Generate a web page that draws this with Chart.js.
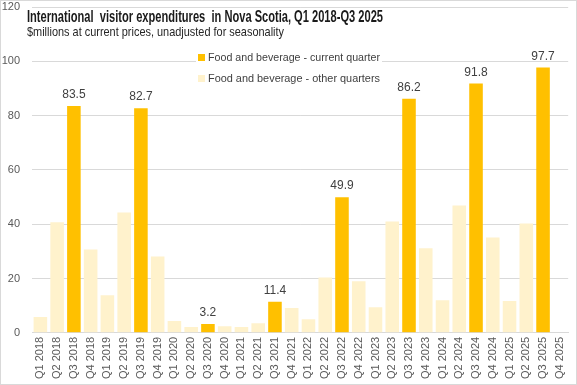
<!DOCTYPE html>
<html lang="en">
<head>
    <meta charset="UTF-8">
    <title>International visitor expenditures in Nova Scotia</title>
    <script src="https://cdn.jsdelivr.net/npm/chart.js"></script>
    <style>
        html, body { margin: 0; padding: 0; background: #fff; }
        canvas { display: block; }
    </style>
</head>
<body>
    <canvas id="fbChart" width="577" height="385"></canvas>

    <script>
        const quarters = [
            'Q1 2018', 'Q2 2018', 'Q3 2018', 'Q4 2018',
            'Q1 2019', 'Q2 2019', 'Q3 2019', 'Q4 2019',
            'Q1 2020', 'Q2 2020', 'Q3 2020', 'Q4 2020',
            'Q1 2021', 'Q2 2021', 'Q3 2021', 'Q4 2021',
            'Q1 2022', 'Q2 2022', 'Q3 2022', 'Q4 2022',
            'Q1 2023', 'Q2 2023', 'Q3 2023', 'Q4 2023',
            'Q1 2024', 'Q2 2024', 'Q3 2024', 'Q4 2024',
            'Q1 2025', 'Q2 2025', 'Q3 2025', 'Q4 2025'
        ];
        // Q3 each year = current quarter
        const currentQuarter = [
            null, null, 83.5, null,
            null, null, 82.7, null,
            null, null, 3.2, null,
            null, null, 11.4, null,
            null, null, 49.9, null,
            null, null, 86.2, null,
            null, null, 91.8, null,
            null, null, 97.7, null
        ];
        const otherQuarters = [
            5.8, 40.7, null, 30.7,
            13.8, 44.3, null, 28.1,
            4.3, 2.1, null, 2.4,
            2.1, 3.5, null, 9.1,
            5.0, 20.4, null, 19.0,
            9.4, 41.0, null, 31.1,
            12.0, 46.9, null, 35.1,
            11.7, 40.3, null, null
        ];
        const yTicks = [0, 20, 40, 60, 80, 100, 120];

        const titleText = 'International  visitor expenditures  in Nova Scotia, Q1 2018-Q3 2025';
        const subtitleText = '$millions at current prices, unadjusted for seasonality';

        const gold = '#FFC000';
        const cream = '#FFF2CC';
        const txt = '#595959';

        // title, subtitle, legend, value labels and frame drawn on top
        const overlay = {
            id: 'overlay',
            afterDatasetsDraw(chart) {
                const c = chart.ctx;
                c.save();
                // value labels on current quarter bars
                c.font = '12px "Liberation Sans", Arial, sans-serif';
                c.fillStyle = '#404040';
                c.textAlign = 'center';
                c.textBaseline = 'alphabetic';
                chart.getDatasetMeta(0).data.forEach((bar, i) => {
                    const v = currentQuarter[i];
                    if (v == null) return;
                    c.fillText(v.toFixed(1), bar.x, bar.y - 8);
                });
                c.restore();
            },
            afterDraw(chart) {
                const c = chart.ctx;
                c.save();
                c.textAlign = 'left';
                c.textBaseline = 'alphabetic';
                c.fillStyle = '#1a1a1a';
                c.font = 'bold 16px "Liberation Sans Narrow", "Liberation Sans", Arial, sans-serif';
                c.fillText(titleText, 27, 22, 356);
                c.fillStyle = '#262626';
                c.font = '13px "Liberation Sans Narrow", "Liberation Sans", Arial, sans-serif';
                c.fillText(subtitleText, 27, 36, 257);

                // legend, white box over the grid
                const lx = 196, ly = 48;
                c.fillStyle = '#fff';
                c.fillRect(lx, ly, 186, 36);
                c.font = '11.5px "Liberation Sans", Arial, sans-serif';
                chart.data.datasets.forEach((ds, i) => {
                    const y = ly + 9 + i * 21;
                    c.fillStyle = ds.backgroundColor;
                    c.fillRect(lx + 2, y - 3, 7, 7);
                    c.fillStyle = '#404040';
                    c.textBaseline = 'middle';
                    c.fillText(ds.label, lx + 12, y + 1, 172);
                });

                c.strokeStyle = '#d9d9d9';
                c.lineWidth = 1;
                c.strokeRect(0.5, 0.5, chart.width - 1, chart.height - 1);
                c.restore();
            }
        };

        const ctx = document.getElementById('fbChart').getContext('2d');
        const chart = new Chart(ctx, {
            type: 'bar',
            data: {
                labels: quarters,
                datasets: [{
                    label: 'Food and beverage - current quarter',
                    data: currentQuarter,
                    backgroundColor: gold,
                    barPercentage: 0.81,
                    categoryPercentage: 1
                }, {
                    label: 'Food and beverage - other quarters',
                    data: otherQuarters,
                    backgroundColor: cream,
                    barPercentage: 0.81,
                    categoryPercentage: 1
                }]
            },
            options: {
                responsive: false,
                animation: false,
                layout: { padding: { top: 7, right: 0, left: 0, bottom: 2 } },
                plugins: {
                    legend: { display: false },
                    tooltip: { enabled: false }
                },
                scales: {
                    x: {
                        stacked: true,
                        grid: { display: false, drawTicks: false },
                        border: { display: true, color: '#d9d9d9' },
                        ticks: {
                            color: txt,
                            font: { family: '"Liberation Sans", Arial, sans-serif', size: 11 },
                            minRotation: 90,
                            maxRotation: 90,
                            autoSkip: false,
                            padding: 4
                        }
                    },
                    y: {
                        stacked: true,
                        min: yTicks[0],
                        max: yTicks[yTicks.length - 1],
                        grid: { color: '#d9d9d9', drawTicks: false },
                        border: { display: false },
                        afterBuildTicks: axis => { axis.ticks = yTicks.map(v => ({ value: v })); },
                        afterFit: axis => { axis.width = 32; axis.paddingTop = 0; },
                        ticks: {
                            color: txt,
                            font: { family: '"Liberation Sans", Arial, sans-serif', size: 11 },
                            padding: 12
                        }
                    }
                }
            },
            plugins: [overlay]
        });
    </script>
</body>
</html>
